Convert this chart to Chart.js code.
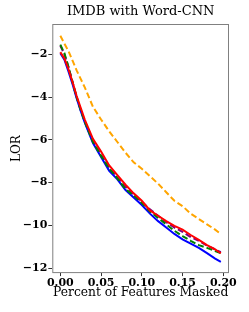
<!DOCTYPE html>
<html>
<head>
<meta charset="utf-8">
<script src="https://cdn.jsdelivr.net/npm/chart.js@4"></script>
<style>
  html, body { margin: 0; padding: 0; background: #fff; }
  #wrap { width: 249px; height: 312px; }
</style>
</head>
<body>
<div id="wrap"><canvas id="chart" width="249" height="312"></canvas></div>
<script>
// fraction of features masked
const maskedFrac = [0, 0.005, 0.01, 0.015, 0.02, 0.025, 0.03, 0.04, 0.05, 0.06, 0.07, 0.08, 0.09, 0.10, 0.11, 0.12, 0.13, 0.14, 0.15, 0.16, 0.17, 0.18, 0.19, 0.197];

// LOR per method
const lorRed    = [-1.9, -2.2, -2.7, -3.3, -3.95, -4.5, -5.05, -5.95, -6.55, -7.2, -7.65, -8.1, -8.5, -8.85, -9.3, -9.55, -9.8, -10.02, -10.2, -10.45, -10.68, -10.92, -11.12, -11.3];
const lorGreen  = [-1.55, -1.95, -2.6, -3.3, -4.0, -4.6, -5.15, -6.1, -6.75, -7.35, -7.8, -8.3, -8.6, -8.95, -9.35, -9.65, -9.95, -10.25, -10.5, -10.72, -10.92, -11.05, -11.2, -11.3];
const lorBlue   = [-1.95, -2.25, -2.8, -3.4, -4.05, -4.65, -5.2, -6.15, -6.8, -7.45, -7.85, -8.35, -8.7, -9.05, -9.45, -9.8, -10.1, -10.4, -10.65, -10.85, -11.05, -11.3, -11.55, -11.7];
const lorPurple = [-1.6, -2.0, -2.6, -3.3, -4.0, -4.6, -5.15, -6.05, -6.7, -7.3, -7.75, -8.2, -8.55, -8.9, -9.25, -9.55, -9.85, -10.1, -10.3, -10.55, -10.72, -10.95, -11.12, -11.25];
const lorOrange = [-1.13, -1.5, -1.85, -2.3, -2.75, -3.15, -3.55, -4.45, -5.05, -5.6, -6.1, -6.6, -7.05, -7.35, -7.7, -8.05, -8.45, -8.85, -9.1, -9.45, -9.7, -9.95, -10.2, -10.4];

const xTicks = [0, 0.05, 0.10, 0.15, 0.20];
const yTicks = [-12, -10, -8, -6, -4, -2];

function pts(vals) { return vals.map((v, i) => ({ x: maskedFrac[i], y: v })); }
function line(vals, color, dashed) {
  return { data: pts(vals), borderColor: color, borderWidth: 2, borderDash: dashed ? [6, 3] : [], pointRadius: 0, tension: 0, fill: false };
}

const serif = "'DejaVu Serif', serif";

// frame round the plot area
const frame = {
  id: 'frame',
  afterDraw(chart) {
    const { ctx, chartArea: a } = chart;
    ctx.save();
    ctx.strokeStyle = '#808080';
    ctx.lineWidth = 1;
    ctx.strokeRect(a.left + 0.5, a.top + 0.5, a.right - a.left - 1, a.bottom - a.top - 1);
    ctx.restore();
  }
};

new Chart(document.getElementById('chart'), {
  type: 'line',
  data: {
    datasets: [
      line(lorRed, '#ff0000', false),
      line(lorGreen, '#008000', true),
      line(lorBlue, '#0000ff', false),
      line(lorPurple, '#800080', true),
      line(lorOrange, '#ffa500', true)
    ]
  },
  options: {
    responsive: false,
    animation: false,
    layout: { padding: { left: 10, right: 20, top: 0, bottom: 10 } },
    plugins: {
      legend: { display: false },
      tooltip: { enabled: false },
      title: {
        display: true,
        fullSize: false,
        text: 'IMDB with Word-CNN',
        color: '#000',
        font: { family: serif, size: 13, weight: 'normal', lineHeight: 1.2 },
        padding: { top: 4, bottom: 4.4 }
      }
    },
    scales: {
      x: {
        type: 'linear',
        min: -0.00985,
        max: 0.207,
        afterBuildTicks: s => { s.ticks = xTicks.map(v => ({ value: v })); },
        afterFit: s => { s.height = 28.9; },
        grid: { display: true, drawOnChartArea: false, drawTicks: true, tickLength: 3, color: '#333' },
        border: { display: false },
        ticks: {
          color: '#000', padding: 0, maxRotation: 0,
          font: { family: serif, size: 11, weight: 'bold' },
          callback: v => v.toFixed(2)
        },
        title: {
          display: true, text: 'Percent of Features Masked', color: '#000',
          font: { family: serif, size: 12.3 }, padding: { top: 2, bottom: 2 }
        }
      },
      y: {
        type: 'linear',
        min: -12.23,
        max: -0.584,
        afterBuildTicks: s => { s.ticks = yTicks.map(v => ({ value: v })); },
        afterFit: s => { s.width = 42.3; },
        grid: { display: true, drawOnChartArea: false, drawTicks: true, tickLength: 4, color: '#333' },
        border: { display: false },
        ticks: {
          color: '#000', padding: 1,
          font: { family: serif, size: 11, weight: 'bold' },
          callback: v => String(v).replace('-', '\u2212')
        },
        title: {
          display: true, text: 'LOR', color: '#000',
          font: { family: serif, size: 12 }, padding: 0
        }
      }
    }
  },
  plugins: [frame]
});
</script>
</body>
</html>
